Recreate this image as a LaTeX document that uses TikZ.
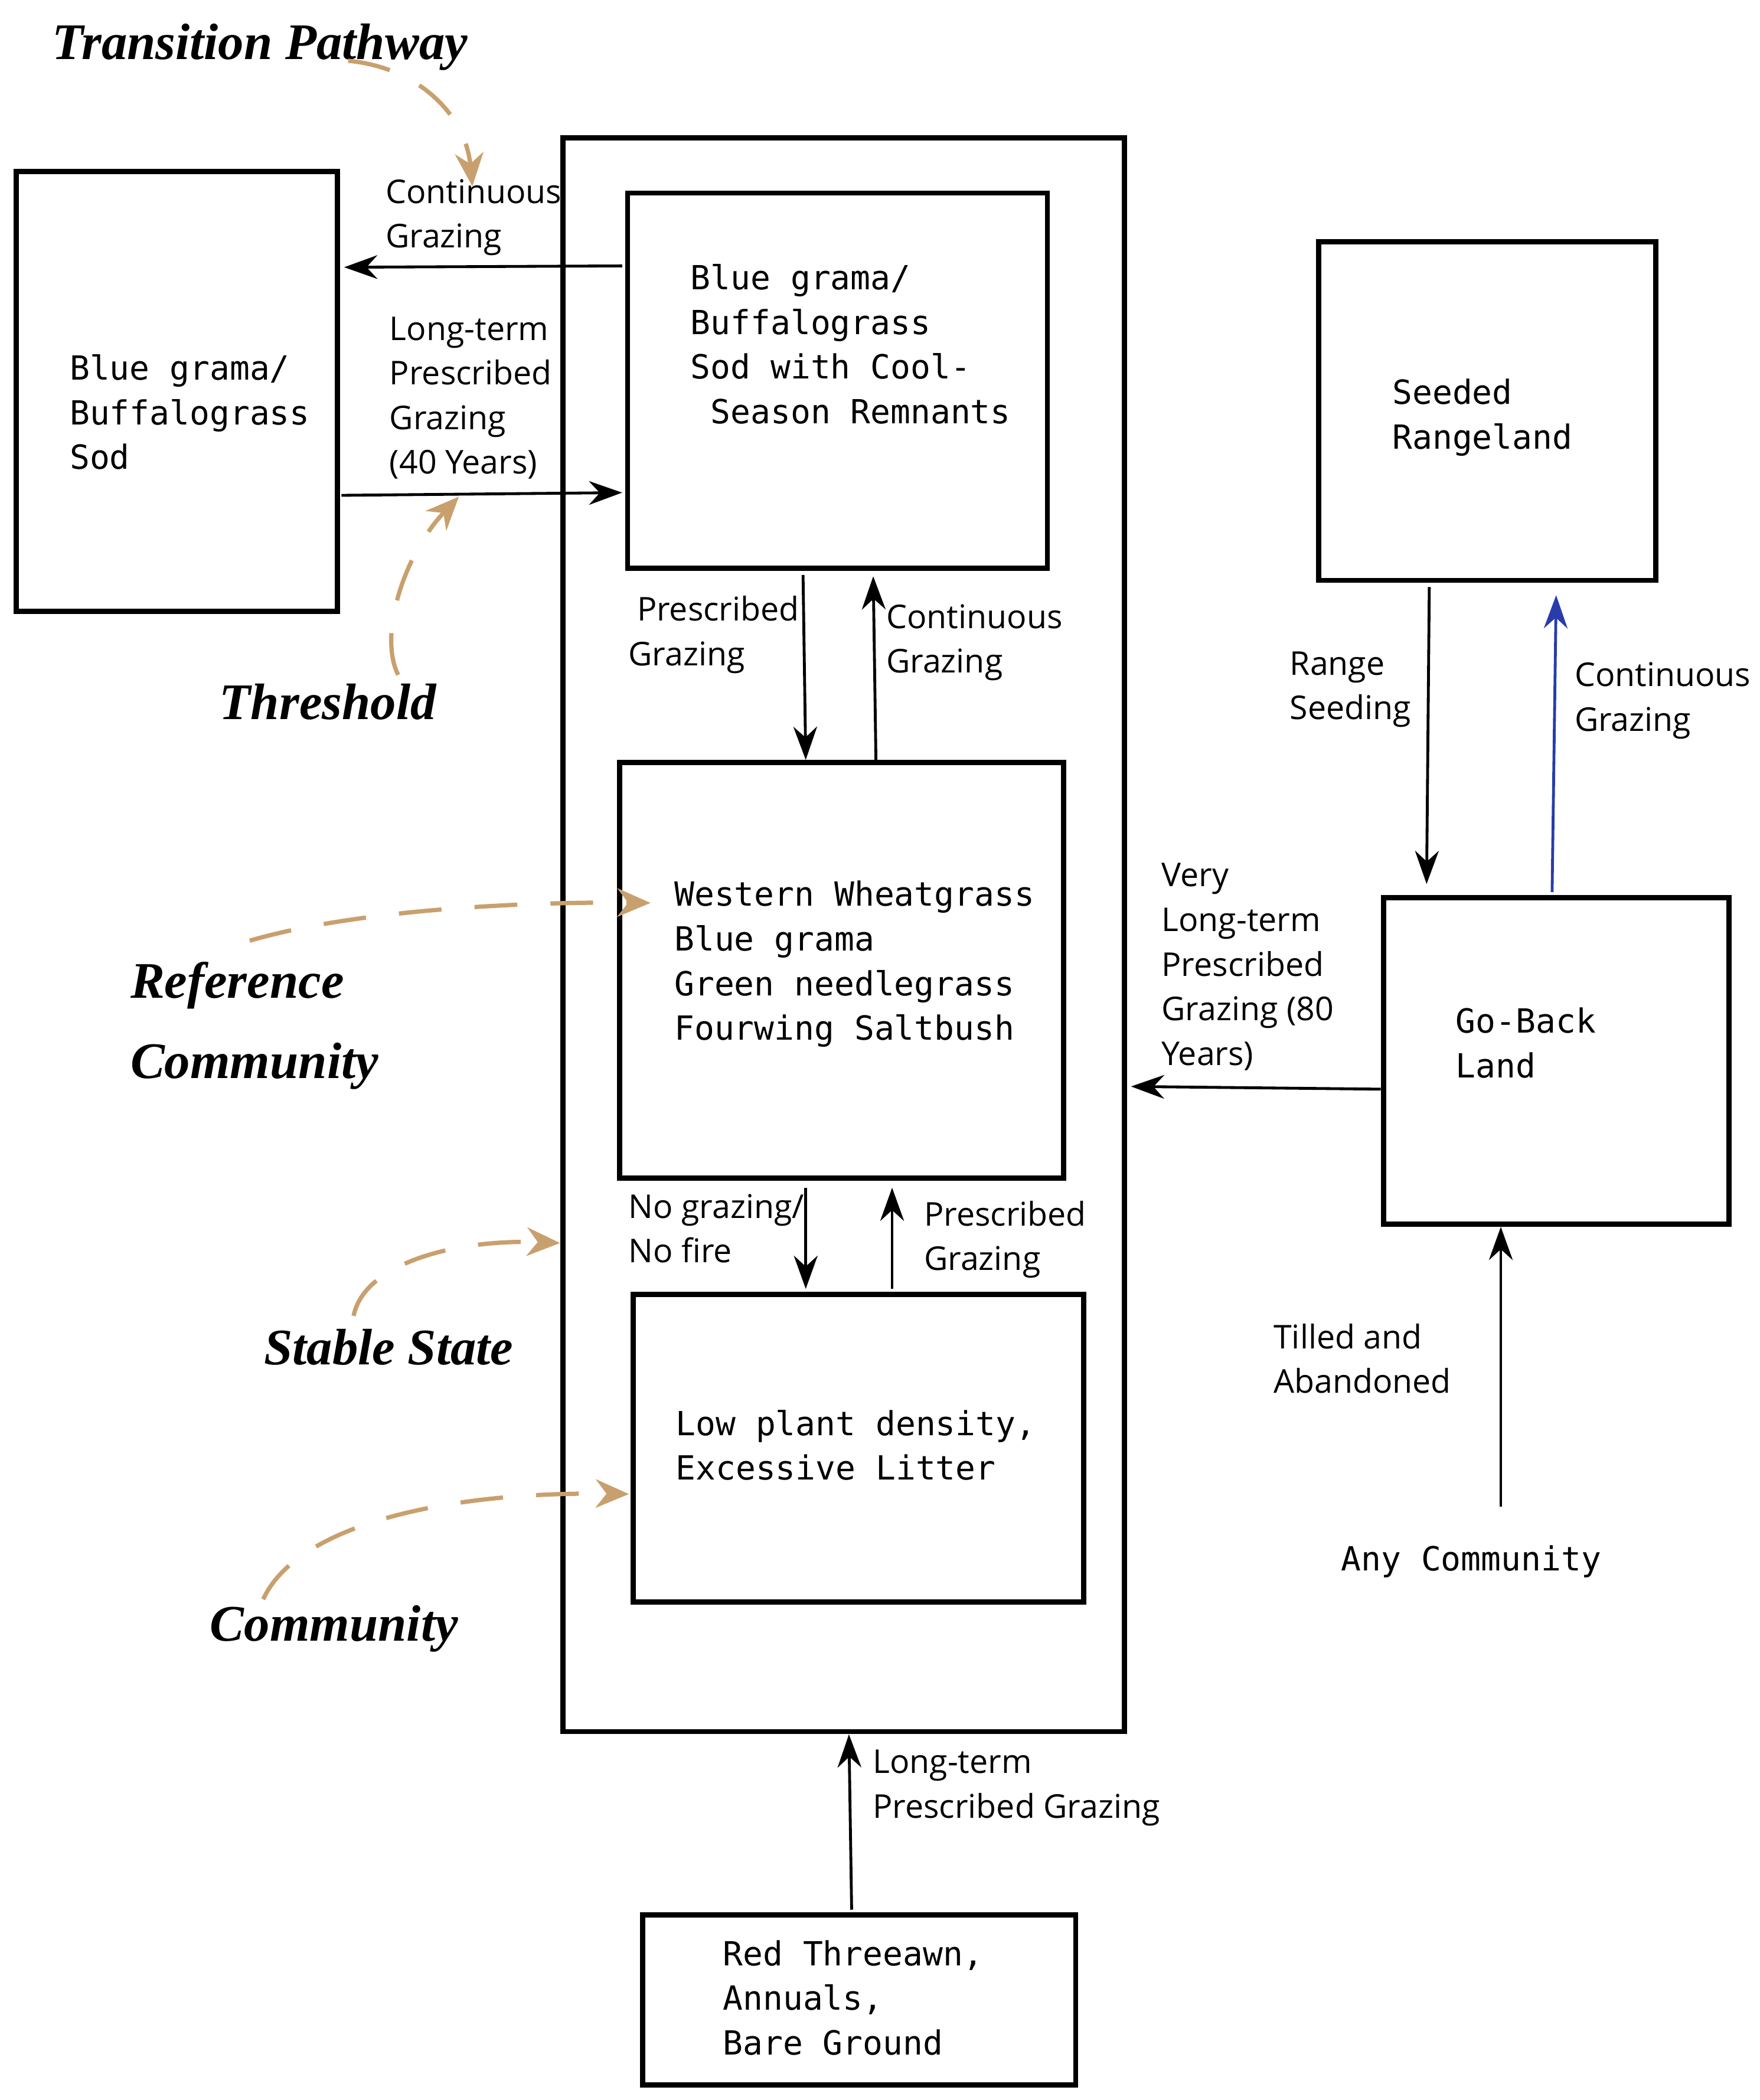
\documentclass[tikz,border=0pt]{standalone}
\usepackage{fontspec}
\setmainfont{Open Sans}
\newfontfamily\monof{DejaVu Sans Mono}
\newfontfamily\scrf{Liberation Serif}
\usetikzlibrary{arrows.meta}
\definecolor{tan}{RGB}{200,160,110}
\definecolor{arrblue}{RGB}{40,60,170}
\begin{document}
\begin{tikzpicture}[x=0.01cm,y=-0.01cm,
  box/.style={draw,line width=1.1pt,inner sep=0},
  mono/.style={font=\monof\fontsize{7.0}{9.4}\selectfont,align=left,anchor=north west,inner sep=0},
  lab/.style={font=\fontsize{6.9}{9.4}\selectfont,align=left,anchor=north west,inner sep=0},
  scr/.style={font=\scrf\bfseries\itshape\fontsize{10.8}{17}\selectfont,align=left,anchor=west,inner sep=0},
  arr/.style={-{Stealth[length=7pt,width=5pt]},line width=0.6pt},
  tarr/.style={-{Stealth[length=7pt,width=6pt]},tan,line width=0.9pt,dash pattern=on 9pt off 7pt}]
\useasboundingbox (0,0) rectangle (1304,1556);
% boxes
\draw[box] (417,102) rectangle (833,1283);
\draw[box] (12,127) rectangle (250,453);
\draw[box] (465,143) rectangle (776,421);
\draw[box] (459,565) rectangle (788,873);
\draw[box] (469,959) rectangle (803,1187);
\draw[box] (476,1419) rectangle (797,1545);
\draw[box] (977,179) rectangle (1227,430);
\draw[box] (1025,665) rectangle (1281,907);
% box texts
\node[mono] (ta) at (51,262) {Blue grama/\\Buffalograss\\Sod};
\node[mono] (tb) at (511,195) {Blue grama/\\Buffalograss\\Sod with Cool-\\\ Season Remnants};
\node[mono] (tc) at (499,652) {Western Wheatgrass\\Blue grama\\Green needlegrass\\Fourwing Saltbush};
\node[mono] (td) at (500,1044) {Low plant density,\\Excessive Litter};
\node[mono] (te) at (535,1437) {Red Threeawn,\\Annuals,\\Bare Ground};
\node[mono] (ts) at (1031,280) {Seeded\\Rangeland};
\node[mono] (tg) at (1078,746) {Go-Back\\Land};
\node[mono,anchor=center] (any) at (1090,1157) {Any Community};
% labels
\node[lab] (l1) at (285,132) {Continuous\\Grazing};
\node[lab] (l2) at (288,234) {Long-term\\Prescribed\\Grazing\\(40 Years)};
\node[lab] (l3) at (465,441) {\ Prescribed\\Grazing};
\node[lab] (l4) at (656,447) {Continuous\\Grazing};
\node[lab] (l5) at (465,884) {No grazing/\\No fire};
\node[lab] (l6) at (684,889) {Prescribed\\Grazing};
\node[lab] (l7) at (646,1296) {Long-term\\Prescribed Grazing};
\node[lab] (l8) at (860,639) {Very\\Long-term\\Prescribed\\Grazing (80\\Years)};
\node[lab] (l9) at (955,482) {Range\\Seeding};
\node[lab] (l10) at (1166,490) {Continuous\\Grazing};
\node[lab] (l11) at (943,980) {Tilled and\\Abandoned};
% script labels
\node[scr] (s1) at (38,35) {Transition Pathway};
\node[scr] (s2) at (162,520) {Threshold};
\node[scr] (s3) at (96,730) {Reference};
\node[scr] (s4) at (96,790) {Community};
\node[scr] (s5) at (195,998) {Stable State};
\node[scr] (s6) at (155,1207) {Community};
% arrows
\draw[arr] (461,197) -- (255,198);
\draw[arr] (253,367) -- (461,365);
\draw[arr] (595,426) -- (597,563);
\draw[arr] (649,563) -- (647,427);
\draw[arr] (597,880) -- (597,955);
\draw[arr] (661,955) -- (661,880);
\draw[arr] (631,1415) -- (629,1285);
\draw[arr] (1023,807) -- (838,805);
\draw[arr] (1059,435) -- (1057,655);
\draw[arr,arrblue] (1150,661) -- (1153,441);
\draw[arr] (any.north -| 1112,0) ++(0,-28) -- (1112,909);
% tan dashed arrows
\draw[tarr] (258,45) .. controls (310,50) and (345,85) .. (350,138);
\draw[tarr] (295,500) .. controls (280,470) and (300,410) .. (340,368);
\draw[tarr] (185,697) .. controls (260,675) and (380,668) .. (482,669);
\draw[tarr] (262,975) .. controls (270,935) and (340,918) .. (415,921);
\draw[tarr] (195,1185) .. controls (220,1130) and (330,1105) .. (466,1107);
\end{tikzpicture}
\end{document}
